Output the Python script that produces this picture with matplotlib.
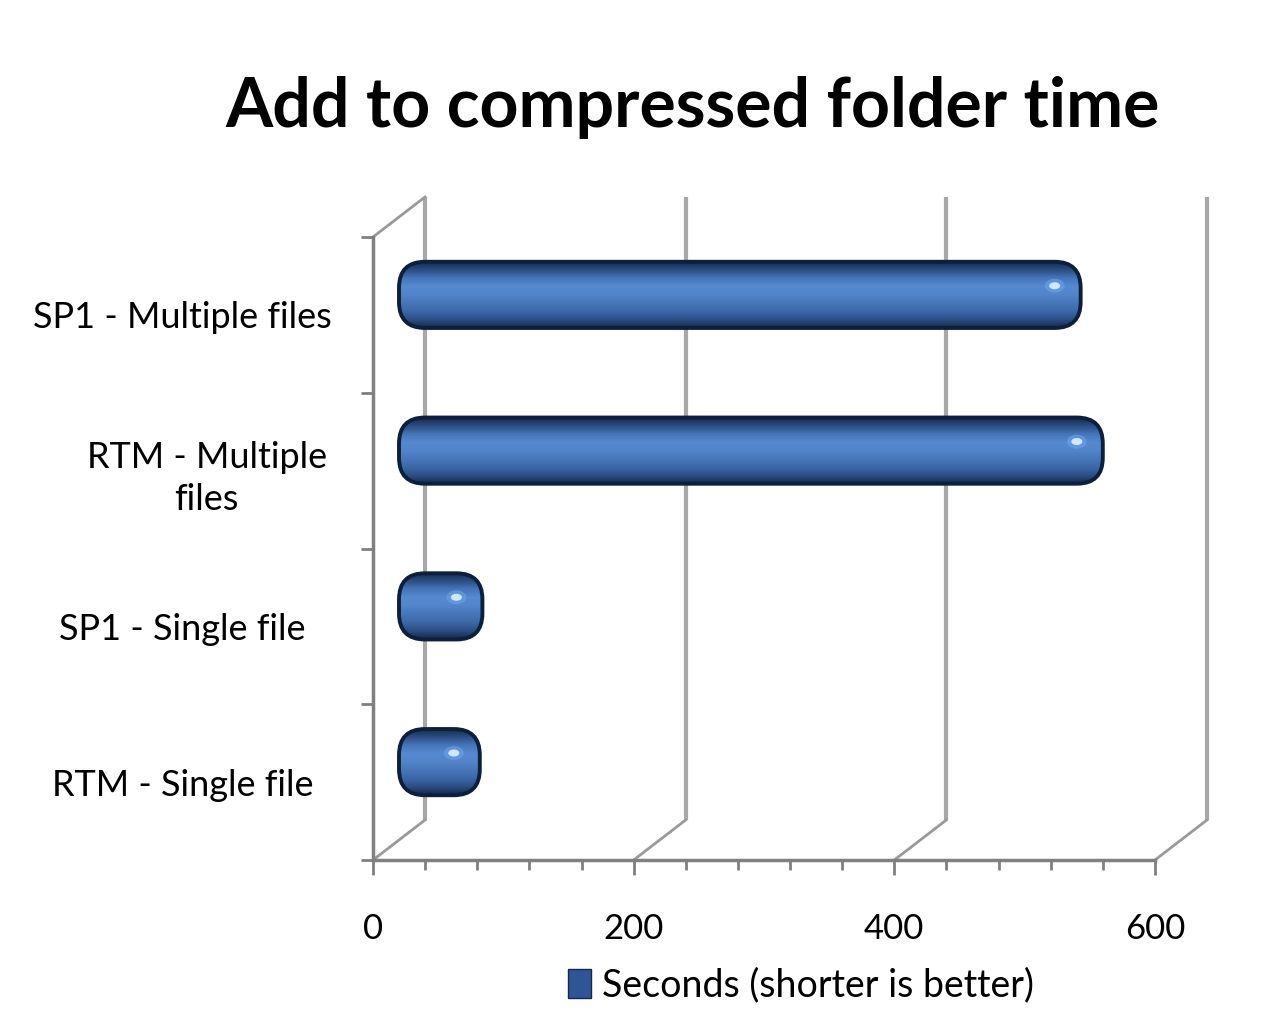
import numpy as np
import matplotlib.pyplot as plt
from matplotlib import transforms
from matplotlib.lines import Line2D
from matplotlib.patches import FancyBboxPatch, Patch, Ellipse
from matplotlib.colors import LinearSegmentedColormap

# ---- data ----
categories = ["SP1 - Multiple files", "RTM - Multiple\nfiles",
              "SP1 - Single file", "RTM - Single file"]
seconds = [523, 540, 64, 62]
x_major = [0, 200, 400, 600]
x_minor_step = 40
legend_label = "Seconds (shorter is better)"
title = "Add to compressed folder time"

FONT = "Lato"
DPI = 100
W, H = 1280, 1022
DEPTH = (52, 40)          # px, back wall offset
GRAY = "#9a9a9a"
AXGRAY = "#808080"

plt.rcParams["font.family"] = [FONT, "DejaVu Sans"]

fig = plt.figure(figsize=(W / DPI, H / DPI), dpi=DPI)
ax = fig.add_axes([373 / W, 162 / H, 782 / W, 623 / H])
ax.set_xlim(0, 600)
ax.set_ylim(len(categories) - 0.5, -0.5)
ax.set_autoscale_on(False)
ax.patch.set_alpha(0)


def shifted(frac):
    return ax.transData + transforms.ScaledTranslation(
        DEPTH[0] * frac / DPI, DEPTH[1] * frac / DPI, fig.dpi_scale_trans)


back = shifted(1.0)
mid = shifted(0.5)
y_lo, y_hi = ax.get_ylim()

# back wall gridlines
for v in x_major:
    ax.plot([v, v], [y_lo, y_hi], transform=back, color="#a8a8a8", lw=3,
            clip_on=False, zorder=0, solid_capstyle="butt")

# floor / wall diagonals
diag = [(v, y_lo) for v in x_major] + [(0, y_hi)]
for v, yy in diag:
    px, py = ax.transData.transform((v, yy))
    ax.add_line(Line2D([px, px + DEPTH[0]], [py, py + DEPTH[1]],
                       transform=transforms.IdentityTransform(),
                       color=GRAY, lw=2, clip_on=False, zorder=0))

# cylinder-ish bars
cmap = LinearSegmentedColormap.from_list("bar", [
    "#14294a", "#2a4b80", "#4574b8", "#5689cf", "#5385cb",
    "#4777ba", "#3c68a8", "#2c4e84", "#14284a"])
grad = np.linspace(0, 1, 256).reshape(-1, 1)
xs = 600 / 782            # data units per px
ys = (y_lo - y_hi) / 623
aspect = ys / xs
bar_h = 0.425
for i, v in enumerate(seconds):
    box = FancyBboxPatch((0, i - bar_h / 2), v, bar_h,
                         boxstyle=f"round,pad=0,rounding_size={26 * xs}",
                         mutation_aspect=aspect, transform=mid,
                         fc="none", ec="#0e1f3b", lw=2.8, zorder=3, clip_on=False)
    ax.add_patch(box)
    im = ax.imshow(grad, cmap=cmap, extent=(0, v, i + bar_h / 2, i - bar_h / 2),
                   aspect="auto", transform=mid, zorder=2, interpolation="bicubic")
    im.set_clip_path(box)
    # glossy spot near the right cap
    cx, cy = v - 26 * xs, i - bar_h / 2 + 24 * ys
    ax.add_patch(Ellipse((cx, cy), 20 * xs, 14 * ys, fc="#6fa6ec", ec="none",
                         alpha=0.55, transform=mid, zorder=4))
    ax.add_patch(Ellipse((cx, cy), 11 * xs, 7 * ys, fc="#cfe7ff", ec="none",
                         transform=mid, zorder=5))

ax.set_xlim(0, 600)
ax.set_ylim(y_lo, y_hi)

# axes
for s in ["top", "right"]:
    ax.spines[s].set_visible(False)
for s in ["left", "bottom"]:
    ax.spines[s].set_color(AXGRAY)
    ax.spines[s].set_linewidth(2.5)

ax.set_xticks(x_major)
ax.set_xticks(np.arange(0, 601, x_minor_step), minor=True)
ax.set_xticklabels([str(v) for v in x_major])
ax.tick_params(axis="x", which="major", length=11, width=2, color=AXGRAY,
               labelsize=25, pad=27)
ax.tick_params(axis="x", which="minor", length=7, width=2, color=AXGRAY)

ax.set_yticks(range(len(categories)))
ax.set_yticks(np.arange(-0.5, len(categories)), minor=True)
ax.set_yticklabels(categories, ha="center", multialignment="center",
                   linespacing=1.35)
ax.tick_params(axis="y", which="major", length=0, labelsize=26, pad=137)
ax.tick_params(axis="y", which="minor", length=9, width=2, color=AXGRAY)

# the wrapped label sits a bit further right in the original
wrapped = ax.get_yticklabels()[1]
wrapped.set_transform(wrapped.get_transform() +
                      transforms.ScaledTranslation(24 / DPI, 0, fig.dpi_scale_trans))

fig.text(0.541, 0.895, title, ha="center", va="center", fontsize=49,
         fontweight="bold")

fig.legend(handles=[Patch(fc="#2f5597", ec="#14294a")], labels=[legend_label],
           loc="center", bbox_to_anchor=(0.626, 0.036), frameon=False,
           fontsize=27, handlelength=0.6, handleheight=0.8, handletextpad=0.3)

fig.savefig("out.png", dpi=DPI, facecolor="white")
